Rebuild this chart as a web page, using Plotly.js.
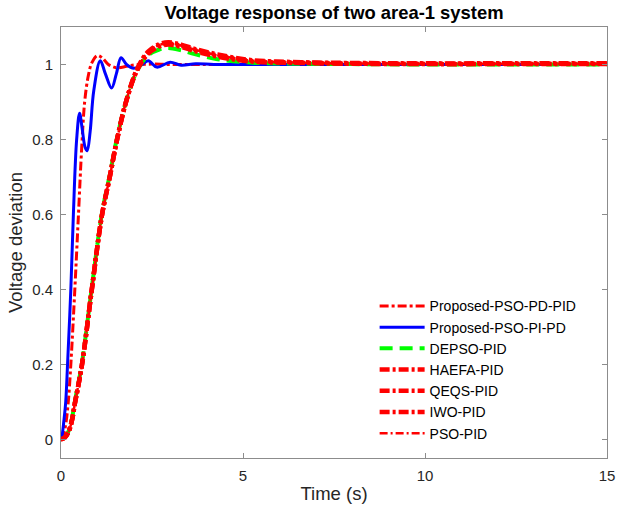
<!DOCTYPE html>
<html>
<head>
<meta charset="utf-8">
<script src="https://cdn.plot.ly/plotly-3.0.1.min.js"></script>
<style>html,body{margin:0;padding:0;background:#fff;}#chart{width:618px;height:512px;}</style>
</head>
<body>
<div id="chart"></div>
<script>
// ---- data ----
var seriesNames = ["Proposed-PSO-PD-PID", "Proposed-PSO-PI-PD", "DEPSO-PID", "HAEFA-PID", "QEQS-PID", "IWO-PID", "PSO-PID"];

var tPdPid = [0, 0.06, 0.13, 0.2, 0.27, 0.38, 0.48, 0.57, 0.65, 0.75, 0.85, 1.0, 1.15, 1.3, 1.55, 1.8, 2.05, 2.5, 3, 5, 8, 15];
var vPdPid = [0, 0.01, 0.04, 0.1, 0.2, 0.4, 0.6, 0.78, 0.9, 0.97, 1.005, 1.024, 1.016, 1.0, 0.991, 0.995, 0.999, 1.001, 1.0, 1.0, 1.0, 1.0];

var tPiPd = [0, 0.03, 0.08, 0.13, 0.18, 0.27, 0.34, 0.43, 0.51, 0.58, 0.66, 0.72, 0.8, 0.9, 1.08, 1.22, 1.39, 1.52, 1.65, 1.8, 2.0, 2.2, 2.4, 2.63, 3.0, 3.3, 3.7, 4.2, 5, 7, 10, 15];
var vPiPd = [0, 0.01, 0.05, 0.1, 0.2, 0.4, 0.6, 0.8, 0.87, 0.83, 0.78, 0.77, 0.82, 0.93, 1.01, 0.975, 0.937, 0.975, 1.018, 1.0, 0.99, 0.998, 1.01, 0.993, 1.006, 0.998, 1.002, 1.0, 1.0, 1.0, 1.0, 1.0];

var tSlow = [0, 0.1, 0.2, 0.3, 0.38, 0.57, 0.84, 1.12, 1.35, 1.53, 1.8, 2.1, 2.4, 2.7, 2.95, 3.3, 3.7, 4.3, 5.2, 6.6, 8, 10, 12.5, 15];
var vDepso = [0, 0.005, 0.02, 0.055, 0.1, 0.2, 0.4, 0.6, 0.71, 0.8, 0.905, 0.985, 1.025, 1.04, 1.044, 1.038, 1.027, 1.014, 1.005, 1.002, 1.001, 1.0, 1.0, 1.0];
var vHaefa = [0, 0.004, 0.018, 0.05, 0.095, 0.195, 0.395, 0.595, 0.705, 0.795, 0.905, 0.99, 1.035, 1.054, 1.059, 1.053, 1.041, 1.027, 1.012, 1.006, 1.004, 1.003, 1.003, 1.003];
var vQeqs = [0, 0.004, 0.018, 0.05, 0.095, 0.195, 0.395, 0.595, 0.705, 0.795, 0.905, 0.988, 1.032, 1.051, 1.056, 1.05, 1.038, 1.024, 1.01, 1.005, 1.003, 1.002, 1.002, 1.002];
var vIwo = [0, 0.004, 0.018, 0.05, 0.095, 0.195, 0.395, 0.595, 0.705, 0.795, 0.905, 0.986, 1.029, 1.048, 1.053, 1.047, 1.035, 1.021, 1.008, 1.004, 1.002, 1.001, 1.001, 1.001];
var vPso = [0, 0.004, 0.018, 0.05, 0.095, 0.195, 0.395, 0.595, 0.705, 0.795, 0.905, 0.989, 1.034, 1.052, 1.057, 1.051, 1.039, 1.025, 1.011, 1.005, 1.003, 1.002, 1.002, 1.002];

var xTicks = [0, 5, 10, 15];
var yTicks = [0, 0.2, 0.4, 0.6, 0.8, 1];
var yTickText = ["0", "0.2", "0.4", "0.6", "0.8", "1"];

// ---- chart ----
var FONT = "Liberation Sans, Arial, Helvetica, sans-serif";
function tr(x, y, name, color, width, dash) {
  return {x: x, y: y, name: name, type: "scatter", mode: "lines",
    line: {color: color, width: width, dash: dash, shape: "spline", smoothing: 1}};
}
var traces = [
  tr(tPdPid, vPdPid, seriesNames[0], "#ff0000", 3, "9px,3px,3px,3px"),
  tr(tPiPd, vPiPd, seriesNames[1], "#0000ff", 3, "solid"),
  tr(tSlow, vDepso, seriesNames[2], "#00ff00", 4, "13px,7px"),
  tr(tSlow, vHaefa, seriesNames[3], "#ff0000", 4.5, "10px,3px,3px,3px"),
  tr(tSlow, vQeqs, seriesNames[4], "#ff0000", 4.5, "10px,3px,3px,3px"),
  tr(tSlow, vIwo, seriesNames[5], "#ff0000", 4.5, "10px,3px,3px,3px"),
  tr(tSlow, vPso, seriesNames[6], "#ff0000", 2.5, "8px,3px,2px,3px")
];
var axisCommon = {
  showline: true, linecolor: "#8c8c8c", linewidth: 1, mirror: "ticks",
  ticks: "inside", ticklen: 5, tickcolor: "#8c8c8c", showgrid: false, zeroline: false,
  ticklabelstandoff: 4,
  tickfont: {family: FONT, size: 15, color: "#262626"}
};
var layout = {
  width: 618, height: 512,
  margin: {l: 61, r: 11, t: 27, b: 54},
  paper_bgcolor: "#ffffff", plot_bgcolor: "#ffffff",
  title: {text: "<b>Voltage response of two area-1 system</b>", x: 0.5, xref: "paper", xanchor: "center",
    y: 1 - 13 / 512, yref: "container", yanchor: "middle", font: {family: FONT, size: 18.4, color: "#000000"}},
  xaxis: Object.assign({}, axisCommon, {range: [0, 15], tickvals: xTicks, ticktext: xTicks.map(String),
    title: {text: "Time (s)", font: {family: FONT, size: 18.5, color: "#262626"}, standoff: 4}}),
  yaxis: Object.assign({}, axisCommon, {range: [-0.05, 1.1], tickvals: yTicks, ticktext: yTickText,
    title: {text: "Voltage deviation", font: {family: FONT, size: 18.5, color: "#262626"}, standoff: 4}}),
  legend: {x: 0.5744, y: 0.389, xanchor: "left", yanchor: "top", bgcolor: "rgba(0,0,0,0)", borderwidth: 0,
    itemwidth: 45, font: {family: FONT, size: 14, color: "#000000"}, tracegroupgap: 0},
  showlegend: true
};
Plotly.newPlot("chart", traces, layout, {displayModeBar: false, staticPlot: true});
</script>
</body>
</html>
